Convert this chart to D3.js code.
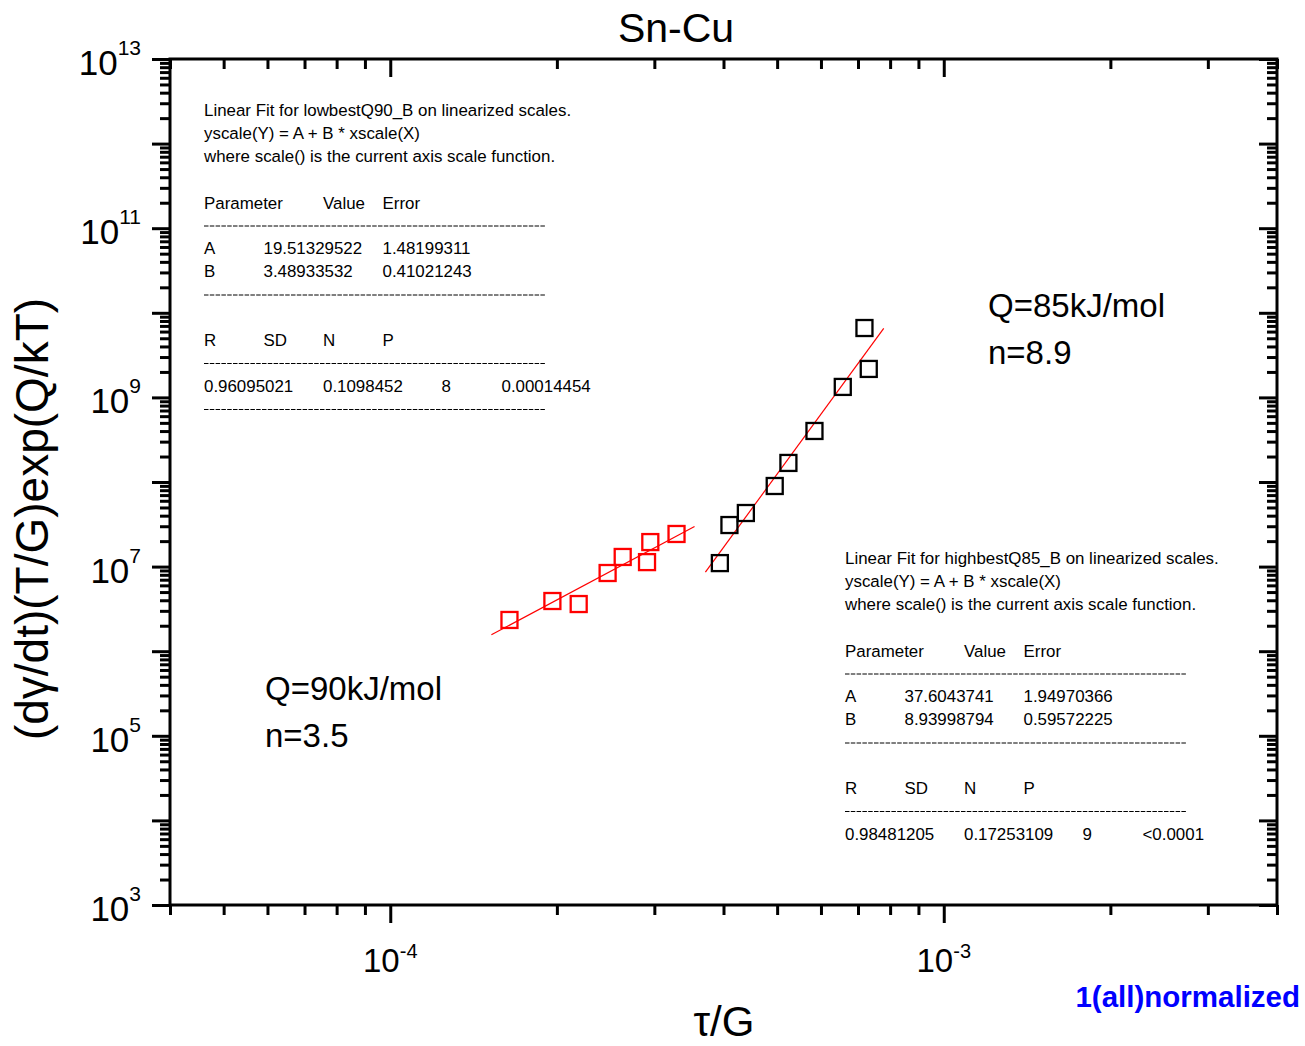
<!DOCTYPE html>
<html>
<head>
<meta charset="utf-8">
<script src="https://cdn.jsdelivr.net/npm/d3@7"></script>
<style>
    body { margin: 0; background: #fff; }
    svg { display: block; font-family: Arial, "Liberation Sans", sans-serif; }
</style>
</head>
<body>
<script>
// data
const redX = [1.642e-4, 1.963e-4, 2.19e-4, 2.47e-4, 2.63e-4, 2.91e-4, 2.95e-4, 3.29e-4]
const redY = [2.34e6, 3.92e6, 3.61e6, 8.4e6, 1.30e7, 1.13e7, 1.95e7, 2.43e7]
const blackX = [3.94e-4, 4.10e-4, 4.39e-4, 4.95e-4, 5.24e-4, 5.84e-4, 6.57e-4, 7.32e-4, 7.19e-4]
const blackY = [1.10e7, 3.10e7, 4.30e7, 8.97e7, 1.68e8, 4.01e8, 1.33e9, 2.17e9, 6.61e9]

// linear fits on log-log scales: log10(Y) = A + B * log10(X)
const redFit = [19.51329522, 3.48933532]
const redFitRange = [1.523e-4, 3.546e-4]
const blackFit = [37.6043741, 8.93998794]
const blackFitRange = [3.71e-4, 7.79e-4]

const xDomain = [4e-5, 4e-3]
const yDomain = [1e3, 1e13]
const xLabelExps = [-4, -3]
const yLabelExps = [3, 5, 7, 9, 11, 13]

const lowBox = [
    'Linear Fit for lowbestQ90_B on linearized scales.',
    'yscale(Y) = A + B * xscale(X)',
    'where scale() is the current axis scale function.'
]
const lowTable = [
    ['Parameter', '', 'Value', 'Error'],
    ['A', '19.51329522', '', '1.48199311'],
    ['B', '3.48933532', '', '0.41021243'],
    ['R', 'SD', 'N', 'P'],
    ['0.96095021', '', '0.1098452', '', '8', '0.00014454']
]
const highBox = [
    'Linear Fit for highbestQ85_B on linearized scales.',
    'yscale(Y) = A + B * xscale(X)',
    'where scale() is the current axis scale function.'
]
const highTable = [
    ['Parameter', '', 'Value', 'Error'],
    ['A', '37.6043741', '', '1.94970366'],
    ['B', '8.93998794', '', '0.59572225'],
    ['R', 'SD', 'N', 'P'],
    ['0.98481205', '', '0.17253109', '', '9', '<0.0001']
]

const dimensions = { width: 1305, height: 1046 }
const margin = { left: 170, top: 59, right: 28, bottom: 141 }
const W = dimensions.width - margin.left - margin.right
const H = dimensions.height - margin.top - margin.bottom

const svg = d3.select('body').append('svg')
    .attr('width', dimensions.width)
    .attr('height', dimensions.height)

const g = svg.append('g')
    .attr('transform', `translate(${margin.left},${margin.top})`)

const x = d3.scaleLog().domain(xDomain).range([0, W])
const y = d3.scaleLog().domain(yDomain).range([H, 0])

// tick values per decade
function decadeTicks(domain) {
    const lo = Math.round(Math.log10(domain[0]) - 1), hi = Math.round(Math.log10(domain[1]))
    const major = [], minor = []
    for (let e = lo; e <= hi; e++) {
        for (let k = 1; k <= 9; k++) {
            const v = k * Math.pow(10, e)
            if (v < domain[0] * 0.999 || v > domain[1] * 1.001) continue
            if (k === 1) major.push(v)
            else minor.push(v)
        }
    }
    return { major, minor }
}
const xt = decadeTicks(xDomain)
const yt = decadeTicks(yDomain)

function drawAxis(axisFn, scale, vals, size, transform) {
    const a = g.append('g')
        .attr('transform', transform)
        .call(axisFn(scale).tickValues(vals).tickSize(size).tickSizeOuter(0).tickFormat(''))
    a.select('.domain').remove()
    a.selectAll('.tick line').attr('stroke', '#000').attr('stroke-width', 3)
}

drawAxis(d3.axisBottom, x, xt.major, 18, `translate(0,${H})`)
drawAxis(d3.axisBottom, x, xt.minor, 10, `translate(0,${H})`)
drawAxis(d3.axisTop, x, xt.major, -18, 'translate(0,0)')
drawAxis(d3.axisTop, x, xt.minor, -10, 'translate(0,0)')
drawAxis(d3.axisLeft, y, yt.major, 18, 'translate(0,0)')
drawAxis(d3.axisLeft, y, yt.minor, 10, 'translate(0,0)')
drawAxis(d3.axisRight, y, yt.major, -18, `translate(${W},0)`)
drawAxis(d3.axisRight, y, yt.minor, -10, `translate(${W},0)`)

g.append('rect')
    .attr('width', W).attr('height', H)
    .attr('fill', 'none').attr('stroke', '#000').attr('stroke-width', 3)

// tick labels
const xl = g.selectAll('.xlab').data(xLabelExps).enter().append('text')
    .attr('x', d => x(Math.pow(10, d)))
    .attr('y', H + 67)
    .attr('text-anchor', 'middle')
xl.append('tspan').attr('font-size', 33).text('10')
xl.append('tspan').attr('font-size', 20).attr('dy', -14).text(d => d)

const yl = g.selectAll('.ylab').data(yLabelExps).enter().append('text')
    .attr('x', -29)
    .attr('y', d => y(Math.pow(10, d)) + 16)
    .attr('text-anchor', 'end')
yl.append('tspan').attr('font-size', 35).text('10')
yl.append('tspan').attr('font-size', 21).attr('dy', -20).text(d => d)

// fit lines
function fitLine(fit, range, color) {
    const pts = range.map(v => [v, Math.pow(10, fit[0] + fit[1] * Math.log10(v))])
    g.append('path')
        .attr('d', d3.line().x(d => x(d[0])).y(d => y(d[1]))(pts))
        .attr('stroke', color).attr('stroke-width', 1.2).attr('fill', 'none')
}
fitLine(redFit, redFitRange, '#ff0000')
fitLine(blackFit, blackFitRange, '#ff0000')

// squares
function squares(xs, ys, color) {
    const s = 16
    g.selectAll(null)
        .data(xs.map((v, i) => [v, ys[i]]))
        .enter()
        .append('rect')
        .attr('x', d => x(d[0]) - s / 2)
        .attr('y', d => y(d[1]) - s / 2)
        .attr('width', s).attr('height', s)
        .attr('fill', 'none').attr('stroke', color).attr('stroke-width', 2.3)
}
squares(redX, redY, '#ff0000')
squares(blackX, blackY, '#000')

// fit report boxes
function report(x0, y0, head, table, lastDash) {
    const b = svg.append('g').attr('transform', `translate(${x0},${y0})`)
        .attr('font-size', 16.9)
    const cols = [0, 59.5, 119, 178.5, 237.5, 297.5]
    head.forEach((t, i) => b.append('text').attr('y', i * 23).text(t))
    const rows = [92.5, 138, 161, 230, 276]
    table.forEach((row, r) => {
        row.forEach((t, c) => {
            if (t) b.append('text').attr('x', cols[c]).attr('y', rows[r]).text(t)
        })
    })
    const dashes = lastDash ? [110, 179, 247.5, 293.5] : [110, 179, 247.5]
    dashes.forEach(dy => b.append('line')
        .attr('x1', 0).attr('x2', 341).attr('y1', dy).attr('y2', dy)
        .attr('stroke', '#000').attr('stroke-width', 1).attr('stroke-dasharray', '4.5,1.3'))
}
report(204, 116, lowBox, lowTable, true)
report(845, 564, highBox, highTable, false)

// titles and notes
svg.append('text').attr('x', 676).attr('y', 42).attr('text-anchor', 'middle')
    .attr('font-size', 41).text('Sn-Cu')
svg.append('text').attr('transform', 'translate(48,519) rotate(-90)')
    .attr('text-anchor', 'middle').attr('font-size', 46).text('(dγ/dt)(T/G)exp(Q/kT)')
svg.append('text').attr('x', 724).attr('y', 1036).attr('text-anchor', 'middle')
    .attr('font-size', 42).text('τ/G')

svg.append('text').attr('x', 988).attr('y', 317).attr('font-size', 33).text('Q=85kJ/mol')
svg.append('text').attr('x', 988).attr('y', 364).attr('font-size', 33).text('n=8.9')
svg.append('text').attr('x', 265).attr('y', 700).attr('font-size', 33).text('Q=90kJ/mol')
svg.append('text').attr('x', 265).attr('y', 747).attr('font-size', 33).text('n=3.5')

svg.append('text').attr('x', 1300).attr('y', 1007).attr('text-anchor', 'end')
    .attr('font-size', 29.5).attr('font-weight', 'bold').attr('fill', '#0000ff')
    .text('1(all)normalized')
</script>
</body>
</html>
